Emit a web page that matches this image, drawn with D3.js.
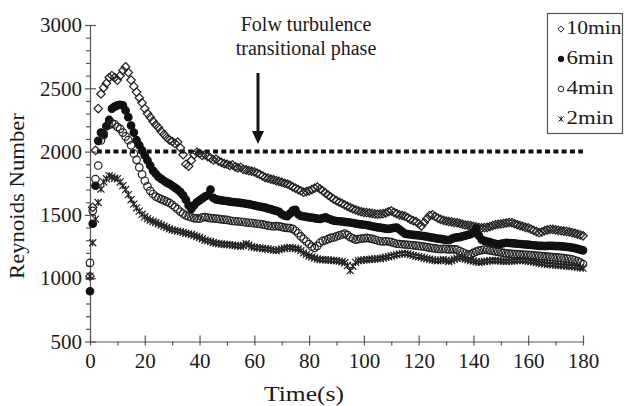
<!DOCTYPE html>
<html>
<head>
<meta charset="utf-8">
<script src="https://cdn.jsdelivr.net/npm/d3@7"></script>
<style>
  body { margin: 0; background: #fff; }
  text { font-family: "Liberation Serif", "Times New Roman", serif; fill: #1a1a1a; }
</style>
</head>
<body>
<div id="chart"></div>
<script>
// sampling grid: one reading per second, 0..180 s
const seconds = d3.range(0, 181);

const series10min = [
    1016, 1560, 2010, 2340, 2455, 2505, 2540, 2585, 2600, 2585,
    2565, 2600, 2640, 2670, 2625, 2565, 2515, 2470, 2425, 2385,
    2340, 2300, 2272, 2240, 2212, 2190, 2160, 2135, 2112, 2092,
    2080, 2065, 2075, 2030, 1975, 1900, 1885, 1930, 1975, 1995,
    1985, 1970, 1975, 1960, 1950, 1935, 1940, 1925, 1915, 1905,
    1900, 1890, 1895, 1880, 1872, 1875, 1860, 1855, 1850, 1845,
    1840, 1830, 1820, 1808, 1795, 1790, 1782, 1778, 1770, 1765,
    1758, 1750, 1744, 1735, 1722, 1712, 1700, 1690, 1678, 1685,
    1690, 1700, 1712, 1720, 1705, 1690, 1672, 1655, 1640, 1625,
    1612, 1600, 1590, 1578, 1568, 1558, 1548, 1540, 1532, 1525,
    1520, 1518, 1515, 1512, 1508, 1505, 1508, 1510, 1515, 1525,
    1532, 1520, 1510, 1500, 1495, 1490, 1478, 1465, 1455, 1448,
    1430, 1412, 1440, 1470, 1495, 1500, 1488, 1475, 1465, 1458,
    1452, 1448, 1445, 1440, 1438, 1432, 1426, 1420, 1418, 1414,
    1410, 1405, 1400, 1398, 1400, 1402, 1408, 1415, 1422, 1426,
    1428, 1432, 1436, 1440, 1438, 1430, 1422, 1415, 1410, 1402,
    1398, 1388, 1378, 1368, 1360, 1366, 1375, 1382, 1386, 1385,
    1382, 1378, 1375, 1372, 1370, 1365, 1360, 1355, 1348, 1342,
    1335
];

const series6min = [
    897, 1430, 1730, 2085, 2150, 2140, 2200, 2250, 2340, 2355,
    2365, 2370, 2365, 2325, 2272, 2206, 2150, 2090, 2050, 2010,
    1970, 1930, 1890, 1850, 1825, 1800, 1785, 1770, 1755, 1745,
    1730, 1715, 1700, 1680, 1655, 1620, 1575, 1548, 1575, 1600,
    1615, 1630, 1645, 1655, 1700, 1635, 1622, 1618, 1615, 1612,
    1610, 1605, 1602, 1600, 1598, 1595, 1592, 1588, 1585, 1580,
    1575, 1570, 1566, 1562, 1558, 1550, 1545, 1538, 1532, 1525,
    1505, 1495, 1490, 1510, 1535, 1540, 1505, 1492, 1488, 1484,
    1480, 1478, 1475, 1470, 1468, 1475, 1480, 1470, 1462, 1455,
    1452, 1450, 1448, 1445, 1442, 1440, 1436, 1432, 1428, 1425,
    1422, 1420, 1415, 1410, 1406, 1402, 1400, 1396, 1392, 1390,
    1394, 1398, 1400, 1385, 1368, 1352, 1348, 1345, 1342, 1340,
    1338, 1335, 1332, 1328, 1325, 1320, 1316, 1312, 1310, 1306,
    1302, 1300, 1310, 1318, 1322, 1325, 1330, 1336, 1342, 1348,
    1360, 1392, 1335, 1305, 1295, 1290, 1285, 1278, 1272, 1268,
    1272, 1276, 1280, 1278, 1276, 1275, 1272, 1270, 1268, 1266,
    1265, 1262, 1260, 1258, 1256, 1255, 1254, 1255, 1256, 1255,
    1254, 1253, 1252, 1250, 1248, 1245, 1242, 1238, 1232, 1226,
    1220
];

const series4min = [
    1121, 1532, 1783, 1890, 2088, 2130, 2200, 2210, 2225, 2215,
    2195, 2180, 2150, 2120, 2090, 2050, 1985, 1935, 1875, 1820,
    1770, 1725, 1690, 1665, 1645, 1635, 1625, 1615, 1605, 1595,
    1580, 1562, 1545, 1525, 1510, 1495, 1488, 1480, 1475, 1472,
    1470, 1480, 1482, 1478, 1475, 1472, 1470, 1468, 1465, 1462,
    1460, 1456, 1452, 1450, 1448, 1446, 1444, 1440, 1438, 1436,
    1434, 1430, 1428, 1425, 1420, 1415, 1412, 1410, 1412, 1410,
    1405, 1400, 1398, 1395, 1390, 1375, 1355, 1330, 1310, 1290,
    1270, 1250, 1240, 1255, 1280, 1295, 1300, 1310, 1318, 1322,
    1330, 1338, 1345, 1352, 1340, 1325, 1315, 1305, 1308, 1312,
    1315, 1318, 1315, 1310, 1305, 1298, 1292, 1290, 1292, 1290,
    1285, 1278, 1272, 1270, 1268, 1266, 1264, 1262, 1260, 1258,
    1255, 1252, 1250, 1246, 1242, 1238, 1235, 1232, 1230, 1232,
    1230, 1228, 1230, 1228, 1225, 1215, 1205, 1195, 1186, 1190,
    1200, 1210, 1218, 1222, 1225, 1224, 1220, 1216, 1212, 1208,
    1204, 1200, 1196, 1194, 1192, 1190, 1190, 1188, 1186, 1185,
    1184, 1182, 1180, 1178, 1176, 1174, 1172, 1170, 1168, 1166,
    1164, 1162, 1160, 1158, 1155, 1152, 1148, 1142, 1135, 1125,
    1112
];

const series2min = [
    1016, 1280, 1466, 1598, 1704, 1760, 1785, 1810, 1800, 1790,
    1785, 1760, 1730, 1700, 1660, 1620, 1585, 1555, 1530, 1505,
    1485, 1470, 1458, 1448, 1440, 1430, 1420, 1410, 1400, 1390,
    1382, 1378, 1372, 1368, 1362, 1355, 1350, 1345, 1338, 1330,
    1322, 1312, 1300, 1295, 1290, 1282, 1276, 1272, 1270, 1268,
    1266, 1264, 1262, 1258, 1255, 1252, 1258, 1272, 1262, 1248,
    1244, 1240, 1238, 1235, 1232, 1230, 1226, 1222, 1218, 1224,
    1230, 1236, 1240, 1242, 1238, 1235, 1230, 1218, 1200, 1188,
    1176, 1168, 1160, 1152, 1148, 1146, 1145, 1144, 1142, 1140,
    1138, 1135, 1130, 1122, 1100, 1060, 1095, 1125, 1138, 1142,
    1145, 1146, 1148, 1150, 1152, 1154, 1156, 1160, 1165, 1170,
    1175, 1180, 1186, 1190, 1194, 1196, 1192, 1186, 1180, 1174,
    1170, 1166, 1160, 1154, 1150, 1146, 1140, 1138, 1142, 1148,
    1140, 1132, 1140, 1150, 1158, 1165, 1160, 1152, 1146, 1140,
    1136, 1130, 1125, 1128, 1132, 1135, 1138, 1140, 1140, 1138,
    1136, 1135, 1134, 1135, 1136, 1138, 1140, 1142, 1140, 1138,
    1135, 1132, 1128, 1124, 1120, 1116, 1112, 1110, 1108, 1106,
    1104, 1102, 1100, 1098, 1096, 1094, 1092, 1090, 1086, 1083,
    1080
];

const seriesNames = ["10min", "6min", "4min", "2min"];
const xTicks = [0, 20, 40, 60, 80, 100, 120, 140, 160, 180];
const yTicks = [500, 1000, 1500, 2000, 2500, 3000];
const turbulenceLimit = 2000;
const noteLines = ["Folw turbulence", "transitional phase"];

const width = 624;
const height = 406;

// marker shapes, Excel-like
const diamond = {
    draw(ctx, size) {
        const r = Math.sqrt(size) / 2;
        ctx.moveTo(0, -r); ctx.lineTo(r, 0); ctx.lineTo(0, r); ctx.lineTo(-r, 0); ctx.closePath();
    }
};
const ring = {
    draw(ctx, size) {
        const r = Math.sqrt(size) / 2;
        ctx.moveTo(r, 0); ctx.arc(0, 0, r, 0, 2 * Math.PI);
    }
};
const star = {
    draw(ctx, size) {
        const r = Math.sqrt(size) / 2;
        ctx.moveTo(-r, -r); ctx.lineTo(r, r);
        ctx.moveTo(-r, r); ctx.lineTo(r, -r);
        ctx.moveTo(0, -r); ctx.lineTo(0, r);
    }
};

const styles = [
    { values: series10min, type: diamond, size: 72, fill: "none", stroke: "#222" },
    { values: series6min, type: ring, size: 56, fill: "#111", stroke: "#111" },
    { values: series4min, type: ring, size: 56, fill: "none", stroke: "#222" },
    { values: series2min, type: star, size: 50, fill: "none", stroke: "#222" }
];

const svg = d3.select("#chart")
    .append("svg")
    .attr("width", width)
    .attr("height", height);

const xScale = d3.scaleLinear().domain([0, 180]).range([90, 583]);
const yScale = d3.scaleLinear().domain([500, 3000]).range([341.5, 25]);

// x axis
const xAxis = svg.append("g")
    .attr("transform", "translate(0," + yScale(500) + ")")
    .call(d3.axisBottom(xScale).tickValues(xTicks).tickFormat(d3.format("d"))
        .tickSize(4).tickPadding(8).tickSizeOuter(0));
xAxis.selectAll(".tick line").attr("y1", -6).attr("y2", 4);
svg.append("g")
    .attr("transform", "translate(0," + yScale(500) + ")")
    .call(d3.axisBottom(xScale).tickValues(d3.range(10, 180, 20)).tickSize(4).tickFormat("").tickSizeOuter(0))
    .select(".domain").remove();

// y axis
const yAxis = svg.append("g")
    .attr("transform", "translate(" + xScale(0) + ",0)")
    .call(d3.axisLeft(yScale).tickValues(yTicks).tickFormat(d3.format("d"))
        .tickSize(5).tickPadding(3).tickSizeOuter(0));
yAxis.selectAll(".tick line").attr("x1", -5).attr("x2", 6);
svg.append("g")
    .attr("transform", "translate(" + xScale(0) + ",0)")
    .call(d3.axisLeft(yScale).tickValues(d3.range(600, 3000, 100).filter(v => v % 500 !== 0)).tickSize(4).tickFormat("").tickSizeOuter(0))
    .select(".domain").remove();

svg.selectAll("g").attr("font-family", null).attr("font-size", null);
svg.selectAll(".domain, .tick line").attr("stroke", "#555").attr("stroke-width", 1.2);
svg.selectAll(".tick text")
    .attr("fill", "#1a1a1a")
    .style("font-size", "21px");

// axis titles
svg.append("text")
    .attr("x", 304).attr("y", 401)
    .attr("text-anchor", "middle")
    .attr("textLength", 80).attr("lengthAdjust", "spacingAndGlyphs")
    .style("font-size", "21px")
    .text("Time(s)");
svg.append("text")
    .attr("transform", "translate(24,196) rotate(-90)")
    .attr("text-anchor", "middle")
    .attr("textLength", 166).attr("lengthAdjust", "spacingAndGlyphs")
    .style("font-size", "21px")
    .text("Reynoids Number");

// 2000 threshold line
svg.append("line")
    .attr("x1", xScale(2.5)).attr("x2", xScale(180))
    .attr("y1", yScale(turbulenceLimit)).attr("y2", yScale(turbulenceLimit))
    .attr("stroke", "#111")
    .attr("stroke-width", 4)
    .attr("stroke-dasharray", "5,3.3");

// series markers
const symbol = d3.symbol();
styles.forEach(s => {
    svg.append("g")
        .selectAll("path")
        .data(seconds)
        .enter()
        .append("path")
        .attr("transform", t => "translate(" + xScale(t) + "," + yScale(s.values[t]) + ")")
        .attr("d", symbol.type(s.type).size(s.size)())
        .attr("fill", s.fill)
        .attr("stroke", s.stroke)
        .attr("stroke-width", 1.2);
});

// annotation
svg.selectAll(".note")
    .data(noteLines)
    .enter()
    .append("text")
    .attr("class", "note")
    .attr("x", 306)
    .attr("y", (d, i) => 31 + i * 24)
    .attr("text-anchor", "middle")
    .style("font-size", "20px")
    .text(d => d);

svg.append("line")
    .attr("x1", 258).attr("x2", 258)
    .attr("y1", 73).attr("y2", 133)
    .attr("stroke", "#111")
    .attr("stroke-width", 3);
svg.append("path")
    .attr("d", "M252,131L264,131L258,144Z")
    .attr("fill", "#111");

// legend
const legend = svg.append("g").attr("transform", "translate(547.5,13.5)");
legend.append("rect")
    .attr("width", 75).attr("height", 120)
    .attr("fill", "#fff")
    .attr("stroke", "#555")
    .attr("stroke-width", 1.2);
const legendRows = legend.selectAll(".row")
    .data(seriesNames)
    .enter()
    .append("g")
    .attr("transform", (d, i) => "translate(0," + (i * 30) + ")");
legendRows.append("path")
    .attr("transform", "translate(13.5,15.5)")
    .attr("d", (d, i) => symbol.type(styles[i].type).size(styles[i].size * 0.55)())
    .attr("fill", (d, i) => styles[i].fill)
    .attr("stroke", (d, i) => styles[i].stroke)
    .attr("stroke-width", 1);
legendRows.append("text")
    .attr("x", 19).attr("y", 20)
    .attr("textLength", (d, i) => i === 0 ? 55 : 47)
    .attr("lengthAdjust", "spacingAndGlyphs")
    .style("font-size", "19px")
    .text(d => d);
</script>
</body>
</html>
